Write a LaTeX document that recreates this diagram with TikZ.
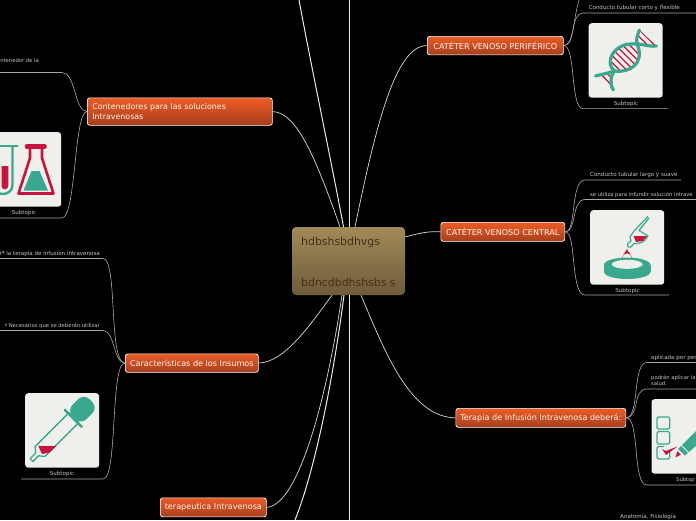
\documentclass[tikz,border=0pt]{standalone}
\usepackage{fontspec}
\setmainfont{DejaVu Sans}
\usetikzlibrary{calc}
\definecolor{teal1}{HTML}{3AA88F}
\definecolor{red1}{HTML}{C8143C}
\definecolor{card}{HTML}{EFF0EC}
\definecolor{leafgrey}{HTML}{A8A8A8}
\definecolor{leaftext}{HTML}{C4C4C0}
\definecolor{topa}{HTML}{EC5B24}
\definecolor{topb}{HTML}{A53F1E}
\definecolor{rootA}{HTML}{A28A59}
\definecolor{rootB}{HTML}{6D5B39}
\definecolor{rootT}{HTML}{46301A}
\tikzset{
  x=1pt,y=-1pt,
  topic/.style={draw=white,line width=.7pt,rounded corners=2.5pt,top color=topa,bottom color=topb,text=white!92!orange,font=\fontsize{8.1}{10}\selectfont,inner sep=0pt,anchor=north west,align=center},
  root/.style={rounded corners=4pt,top color=rootA,bottom color=rootB,inner sep=0pt,minimum width=113pt,minimum height=68pt},
  roottext/.style={text=rootT,font=\fontsize{10.9}{13}\selectfont,anchor=base west,inner sep=0pt},
  mainline/.style={draw=white!92!black,line width=1pt},
  thinmain/.style={draw=white!85!black,line width=.7pt},
  subline/.style={draw=leafgrey,line width=.6pt},
  leaf/.style={text=leaftext,font=\fontsize{5.55}{6.2}\selectfont,inner sep=0pt,yshift=-.6pt},
  leafsmall/.style={leaf,font=\fontsize{5.25}{6.2}\selectfont},
  cardbox/.style={fill=card,rounded corners=3pt,minimum width=74pt,minimum height=74.5pt,inner sep=0pt,anchor=north west},
  stripe/.style={draw=red1,line width=1.25pt},
}
\begin{document}
\begin{tikzpicture}
\useasboundingbox (0,0) rectangle (696,520);
\clip (0,0) rectangle (696,520);
\fill[black] (0,0) rectangle (696,520);

% cards
\node[cardbox] (cardlab) at (-13,132) {};
\node[cardbox] (carddrop) at (25,393) {};
\node[cardbox] (carddna) at (588.5,23) {};
\node[cardbox] (cardcen) at (590,210) {};
\node[cardbox] (cardchk) at (651.3,399) {};

% root and topics
\node[root] (c) at (348.5,261) {};
\node[roottext] (c1) at (301,245) {hdbshsbdhvgs};
\node[roottext] (c2) at (301,286) {bdncdbdhshsbs s};

\node[topic,minimum width=185pt,minimum height=27.5pt,text width=175pt,inner xsep=5pt,align=left,font=\fontsize{7.9}{10}\selectfont] (cont) at (87,97.5) {Contenedores para las soluciones\\Intravenosas};
\node[topic,minimum width=133pt,minimum height=18.5pt] (car) at (125,353.5) {Características de los Insumos};
\node[topic,minimum width=106pt,minimum height=19pt] (ter) at (160,497.5) {terapeutica Intravenosa};
\node[topic,minimum width=136pt,minimum height=18.5pt] (per) at (427,36) {CATÉTER VENOSO PERIFÉRICO};
\node[topic,minimum width=124pt,minimum height=19pt] (cen) at (440.5,222) {CATÉTER VENOSO CENTRAL};
\node[topic,minimum width=170pt,minimum height=19pt] (tin) at (455.5,408) {Terapia de Infusión Intravenosa deberá:};

% free ends
\coordinate (tTop1) at (299,0);
\coordinate (tTop2) at (349,0);
\coordinate (tBot1) at (295,520);
\coordinate (tBot2) at (349,520);

% main connectors
\draw[thinmain] (cont.east) .. controls (298,112) and (318,165) .. ([xshift=-8.5pt]c.north);
\draw[mainline] (tTop1) .. controls (312,70) and (332,165) .. ([xshift=-5pt]c.north);
\draw[mainline] (tTop2) -- ([xshift=.5pt]c.north);
\draw[thinmain] (per.west) .. controls (395,45) and (375,130) .. ([xshift=6.5pt]c.north);
\draw[thinmain] (cen.west) .. controls (425,231) and (418,234) .. ([yshift=-10pt]c.north east);
\draw[thinmain] (car.east) .. controls (285,362) and (310,325) .. ([xshift=-16.5pt]c.south);
\draw[thinmain] (ter.east) .. controls (300,505) and (328,390) .. ([xshift=-6.5pt]c.south);
\draw[mainline] (tBot1) .. controls (315,470) and (333,380) .. ([xshift=-4.5pt]c.south);
\draw[mainline] (tBot2) -- ([xshift=.5pt]c.south);
\draw[thinmain] (tin.west) .. controls (410,417) and (385,352) .. ([xshift=12.5pt]c.south);

% sub connectors: Contenedores
\coordinate (a1) at (0,72.5); \coordinate (a2) at (0,218);
\draw[subline] (cont.west) .. controls (74,111) and (76,72.5) .. (62,72.5) -- (a1);
\draw[subline] (cont.west) .. controls (74,111) and (76,218) .. (62,218) -- (a2);
% Caracteristicas
\coordinate (b1) at (0,258.5); \coordinate (b2) at (0,330.5); \coordinate (b3) at (21,479);
\draw[subline] (car.west) .. controls (108,362.5) and (118,258.5) .. (103,258.5) -- (b1);
\draw[subline] (car.west) .. controls (113,362.5) and (115,330.5) .. (103,330.5) -- (b2);
\draw[subline] (car.west) .. controls (110,362.5) and (118,479) .. (103,479) -- (b3);
% Peri
\coordinate (p0) at (579,0); \coordinate (p1) at (696,13); \coordinate (p2) at (668,108.6);
\draw[subline] (per.east) .. controls (574,45) and (572,25) .. (p0);
\draw[subline] (per.east) .. controls (576,45) and (570,13) .. (583,13) -- (p1);
\draw[subline] (per.east) .. controls (576,45) and (570,108.6) .. (583,108.6) -- (p2);
% Central
\coordinate (q1) at (681,180); \coordinate (q2) at (696,199.5); \coordinate (q3) at (669,295);
\draw[subline] (cen.east) .. controls (577,232) and (570,180) .. (585,180) -- (q1);
\draw[subline] (cen.east) .. controls (577,232) and (571,199.5) .. (585,199.5) -- (q2);
\draw[subline] (cen.east) .. controls (577,232) and (570,295) .. (585,295) -- (q3);
% Terapia
\coordinate (r1) at (696,362.5); \coordinate (r2) at (696,389); \coordinate (r3) at (696,485);
\draw[subline] (tin.east) .. controls (640,417) and (632,362.5) .. (647,362.5) -- (r1);
\draw[subline] (tin.east) .. controls (640,417) and (632,389) .. (647,389) -- (r2);
\draw[subline] (tin.east) .. controls (640,417) and (632,485) .. (647,485) -- (r3);

% leaf texts
\node[leafsmall,anchor=east] (l1) at (39,60) {ntenedor de la};
\node[leaf] (l2) at (24,212) {Subtopic};
\node[leaf,anchor=east] (l3) at (100,253) {rª la terapia de infusión intravenosa};
\node[leafsmall,anchor=east] (l4) at (100,325) {ª Necesarios que se deberán utilizar};
\node[leaf] (l5) at (62,473) {Subtopic};
\node[leaf,anchor=west] (l6) at (588.5,7) {Conducto tubular corto y flexible};
\node[leaf] (l7) at (626,103) {Subtopic};
\node[leaf,anchor=west] (l8) at (590,174) {Conducto tubular largo y suave};
\node[leafsmall,anchor=west] (l9) at (590,194) {se utiliza para infundir solución intrave};
\node[leaf] (l10) at (627.5,290) {Subtopic};
\node[leaf,anchor=west] (l11) at (651,357) {aplicada por per};
\node[leafsmall,anchor=north west,align=left] (l12) at (651,374) {podrán aplicar la\\salud.};
\node[leafsmall,anchor=west] (l13) at (676,479) {Subtop};
\node[leaf,anchor=west] (l14) at (620,516.5) {Anatomía, Fisiología};

% lab icon: test tube
\fill[red1] (1.5,166) -- (8.3,166) -- (8.3,186) arc[start angle=0,end angle=180,radius=3.4] -- cycle;
\draw[teal1,line width=2.4pt] (12.5,146) -- (12.5,185) .. controls (12.5,197) and (-7,197) .. (-7,185) -- (-7,146);
\draw[teal1,line width=2.8pt,line cap=round] (-11,146) -- (17.5,146);
% flask
\draw[red1,line width=2.6pt,line join=round] (30,147) -- (30,158) -- (18.5,193.5) -- (53.5,193.5) -- (42,158) -- (42,147);
\draw[red1,line width=4.6pt,line cap=round] (27,146.5) -- (44.5,146.5);
\fill[teal1] (31.5,171) -- (39.5,171) -- (48,190.5) -- (23.5,190.5) -- cycle;

% dropper (Caracteristicas)
\begin{scope}[shift={(31.5,460)},x={(.707pt,.707pt)},y={(.707pt,-.707pt)}]
\draw[teal1,line width=1.3pt,line join=round,fill=card] (0,-2) -- (8,-2) -- (12,-7) -- (60,-7) -- (60,7) -- (12,7) -- (8,2) -- (0,2) -- cycle;
\draw[teal1,line width=2.4pt,line cap=round] (59,-12) -- (59,12);
\fill[teal1,rounded corners=8pt] (60,-10) -- (84,-10) -- (84,10) -- (60,10) -- cycle;
\end{scope}
\fill[red1] (38.3,446) -- (56,446) -- (49.5,452.5) -- (42,454) -- cycle;

% DNA
\begin{scope}[shift={(588.5,23)}]
\begin{scope}
\clip (8,53) -- (26,48) -- (22,57) -- (25,67) -- cycle;
\foreach \k in {-6,1,...,40}{\draw[stripe] (\k,40) -- (\k+30,70);}
\end{scope}
\begin{scope}
\clip (26,48) .. controls (16,40) and (24,22) .. (42,21) -- (49,22) .. controls (56,40) and (42,50) .. (26,48) -- cycle;
\foreach \k in {-6,1,...,60}{\draw[stripe] (\k,10) -- (\k+50,60);}
\end{scope}
\begin{scope}
\clip (51,7) -- (49,21) -- (68,23) -- cycle;
\foreach \k in {30,37,...,70}{\draw[stripe] (\k,0) -- (\k+30,30);}
\end{scope}
\draw[teal1,line width=3.2pt,line cap=round] (7,53) .. controls (14,51) and (21,50) .. (26,48) .. controls (16,40) and (24,22) .. (42,21) .. controls (52,20) and (60,24) .. (68,23);
\draw[teal1,line width=3.2pt,line cap=round] (25,67) .. controls (21,62) and (22,52) .. (26,48) .. controls (42,50) and (56,40) .. (49,22) .. controls (47,16) and (49,12) .. (51,7);
\end{scope}

% central icon (dropper and dish)
\begin{scope}[shift={(590,210)}]
\draw[teal1,line width=1.2pt,line join=round] (58,6.5) -- (44,21) -- (40,27) -- (41,31) -- (37.5,34) -- (38,37) -- (41,37) -- (44,33.5) .. controls (50,34) and (55,32) .. (58,26) -- (49,20.5) -- (59,8);
\fill[red1] (43.5,26) -- (57,26) -- (53,31) -- (46,32) -- cycle;
\fill[teal1] (37.2,55) ellipse[x radius=23.3,y radius=7.5];
\fill[teal1] (13.9,55) rectangle (60.5,62);
\fill[teal1] (37.2,62) ellipse[x radius=23.3,y radius=7];
\fill[card] (37.2,54.3) ellipse[x radius=15.5,y radius=4.5];
\fill[red1] (37,39) .. controls (35.5,43) and (32,45) .. (32,48.3) arc[start angle=180,end angle=360,radius=5] .. controls (42,45) and (38.5,43) .. (37,39) -- cycle;
\end{scope}

% checklist icon
\draw[teal1,line width=1.2pt,rounded corners=1.5pt] (657,417) rectangle (669.7,429);
\draw[teal1,line width=1.2pt,rounded corners=1.5pt] (657,431.5) rectangle (669.7,444);
\draw[teal1,line width=1.2pt,rounded corners=1.5pt] (669.7,452) -- (669.7,459) -- (657,459) -- (657,446.5) -- (664,446.5);
\fill[red1] (662,449) -- (666,451) -- (677.5,446.5) -- (666,455) -- cycle;
\fill[red1] (675.5,457.5) -- (677.5,451) -- (681,454.5) -- cycle;
\fill[teal1] (678,449) -- (712,415) -- (721,424) -- (685,455.5) -- cycle;
\draw[card,line width=.9pt] (681.5,445.5) -- (688.5,452.5);
\end{tikzpicture}
\end{document}
